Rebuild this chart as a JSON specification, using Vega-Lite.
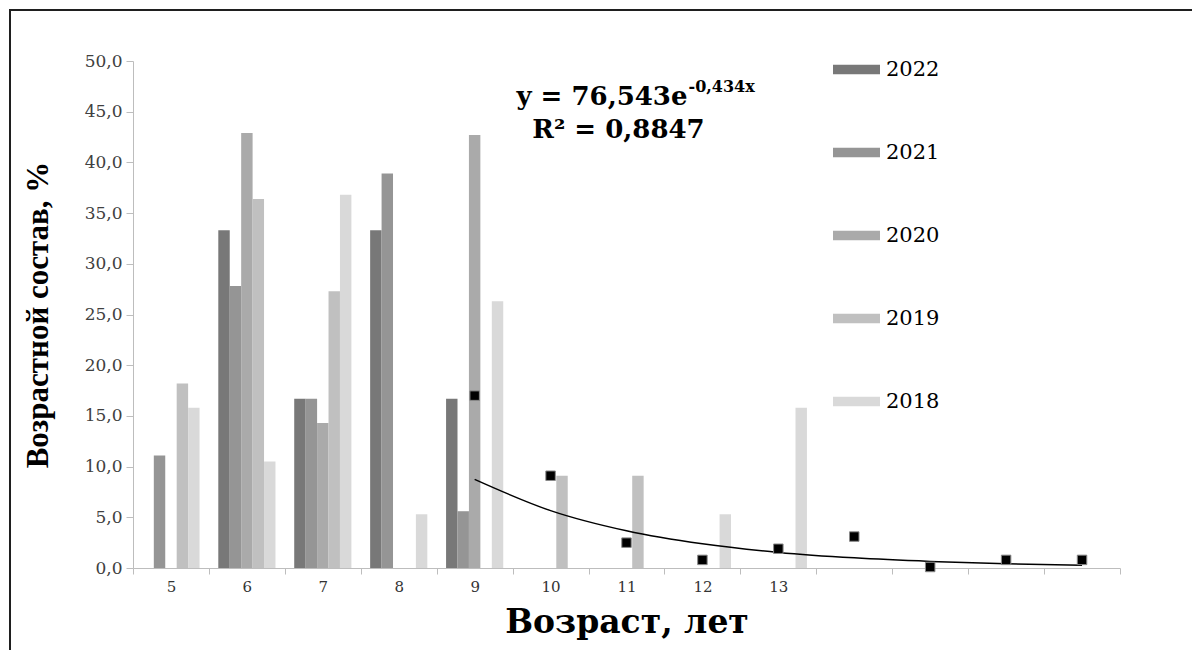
{
  "$schema": "https://vega.github.io/schema/vega-lite/v6.json",
  "autosize": {"type": "none"},
  "padding": {"left": 10, "top": 10, "right": 0, "bottom": 0},
  "width": 1200,
  "height": 660,
  "background": "white",
  "config": {
    "view": {"stroke": "#1f1f1f", "strokeWidth": 2},
    "axis": {"grid": false}
  },
  "datasets": {
    "bars": [
      {"age": "5", "year": "2021", "value": 11.1},
      {"age": "5", "year": "2019", "value": 18.2},
      {"age": "5", "year": "2018", "value": 15.8},
      {"age": "6", "year": "2022", "value": 33.3},
      {"age": "6", "year": "2021", "value": 27.8},
      {"age": "6", "year": "2020", "value": 42.9},
      {"age": "6", "year": "2019", "value": 36.4},
      {"age": "6", "year": "2018", "value": 10.5},
      {"age": "7", "year": "2022", "value": 16.7},
      {"age": "7", "year": "2021", "value": 16.7},
      {"age": "7", "year": "2020", "value": 14.3},
      {"age": "7", "year": "2019", "value": 27.3},
      {"age": "7", "year": "2018", "value": 36.8},
      {"age": "8", "year": "2022", "value": 33.3},
      {"age": "8", "year": "2021", "value": 38.9},
      {"age": "8", "year": "2018", "value": 5.3},
      {"age": "9", "year": "2022", "value": 16.7},
      {"age": "9", "year": "2021", "value": 5.6},
      {"age": "9", "year": "2020", "value": 42.7},
      {"age": "9", "year": "2018", "value": 26.3},
      {"age": "10", "year": "2019", "value": 9.1},
      {"age": "11", "year": "2019", "value": 9.1},
      {"age": "12", "year": "2018", "value": 5.3},
      {"age": "13", "year": "2018", "value": 15.8}
    ],
    "points": [
      {"age": "9", "value": 17.0},
      {"age": "10", "value": 9.1},
      {"age": "11", "value": 2.5},
      {"age": "12", "value": 0.8},
      {"age": "13", "value": 1.9},
      {"age": "14", "value": 3.1},
      {"age": "15", "value": 0.1},
      {"age": "16", "value": 0.8},
      {"age": "17", "value": 0.8}
    ],
    "trend": [
      {"age": "9", "value": 8.74},
      {"age": "10", "value": 5.66},
      {"age": "11", "value": 3.67},
      {"age": "12", "value": 2.38},
      {"age": "13", "value": 1.54},
      {"age": "14", "value": 1.0},
      {"age": "15", "value": 0.65},
      {"age": "16", "value": 0.42},
      {"age": "17", "value": 0.27}
    ],
    "labels": [
      {"t": "y = 76,543e", "part": "main"},
      {"t": "-0,434x", "part": "sup"},
      {"t": "R² = 0,8847", "part": "r2"}
    ]
  },
  "layer": [
    {
      "data": {"name": "bars"},
      "mark": {"type": "bar"},
      "encoding": {
        "x": {
          "field": "age",
          "type": "nominal",
          "sort": null,
          "scale": {
            "domain": ["5", "6", "7", "8", "9", "10", "11", "12", "13", "14", "15", "16", "17"],
            "range": [123, 1110],
            "paddingInner": 0,
            "paddingOuter": 0
          },
          "axis": {
            "orient": "bottom",
            "offset": -102,
            "labelAngle": 0,
            "labelExpr": "toNumber(datum.value) > 13 ? '' : datum.value",
            "labelFont": "DejaVu Serif",
            "labelFontSize": 15,
            "labelColor": "#333333",
            "labelPadding": 5,
            "domainColor": "#bdbdbd",
            "tickColor": "#bdbdbd",
            "tickSize": 6,
            "tickBand": "extent",
            "title": "Возраст, лет",
            "titleFont": "DejaVu Serif",
            "titleFontSize": 33,
            "titleFontWeight": "bold",
            "titleColor": "black",
            "titleBaseline": "alphabetic",
            "titleY": 64
          }
        },
        "y": {
          "field": "value",
          "type": "quantitative",
          "scale": {"domain": [0, 50], "range": [558, 51], "nice": false, "zero": true},
          "axis": {
            "orient": "left",
            "offset": -123,
            "values": [0, 5, 10, 15, 20, 25, 30, 35, 40, 45, 50],
            "labelExpr": "replace(format(datum.value, '.1f'), '.', ',')",
            "labelFont": "DejaVu Serif",
            "labelFontSize": 17,
            "labelColor": "#404040",
            "labelPadding": 4,
            "domainColor": "#bdbdbd",
            "tickColor": "#bdbdbd",
            "tickSize": 7,
            "title": "Возрастной состав, %",
            "titleFont": "Liberation Serif",
            "titleFontSize": 31,
            "titleFontWeight": "bold",
            "titleColor": "black",
            "titleAngle": 270,
            "titleBaseline": "alphabetic",
            "titleX": -86
          }
        },
        "xOffset": {
          "field": "year",
          "type": "nominal",
          "scale": {"domain": ["2022", "2021", "2020", "2019", "2018"], "paddingInner": 0, "paddingOuter": 0.82}
        },
        "color": {
          "field": "year",
          "type": "nominal",
          "scale": {
            "domain": ["2022", "2021", "2020", "2019", "2018"],
            "range": ["#787878", "#959595", "#aaaaaa", "#c0c0c0", "#d9d9d9"]
          },
          "legend": {
            "orient": "none",
            "legendX": 823,
            "legendY": 36,
            "title": null,
            "padding": 0,
            "symbolType": "M-1,-0.2H1V0.2H-1Z",
            "symbolSize": 2209,
            "symbolStrokeWidth": 0,
            "symbolOpacity": 1,
            "labelFont": "DejaVu Serif",
            "labelFontSize": 21,
            "labelColor": "black",
            "labelOffset": 6,
            "rowPadding": 49
          }
        }
      }
    },
    {
      "data": {"name": "trend"},
      "mark": {"type": "line", "color": "black", "strokeWidth": 1.5, "interpolate": "monotone"},
      "encoding": {
        "x": {"field": "age", "type": "nominal", "sort": null},
        "y": {"field": "value", "type": "quantitative"}
      }
    },
    {
      "data": {"name": "points"},
      "mark": {"type": "square", "size": 90, "filled": true, "fill": "black", "stroke": "#8a8a8a", "strokeWidth": 1, "opacity": 1},
      "encoding": {
        "x": {"field": "age", "type": "nominal", "sort": null},
        "y": {"field": "value", "type": "quantitative"}
      }
    },
    {
      "data": {"name": "labels"},
      "transform": [{"filter": "datum.part === 'main'"}],
      "mark": {"type": "text", "font": "DejaVu Serif", "fontSize": 26, "fontWeight": "bold", "color": "black", "align": "right", "baseline": "alphabetic", "dx": 61},
      "encoding": {"x": {"datum": "11"}, "y": {"datum": 45.7}, "text": {"field": "t", "type": "nominal"}}
    },
    {
      "data": {"name": "labels"},
      "transform": [{"filter": "datum.part === 'sup'"}],
      "mark": {"type": "text", "font": "DejaVu Serif", "fontSize": 16, "fontWeight": "bold", "color": "black", "align": "left", "baseline": "alphabetic", "dx": 62},
      "encoding": {"x": {"datum": "11"}, "y": {"datum": 46.9}, "text": {"field": "t", "type": "nominal"}}
    },
    {
      "data": {"name": "labels"},
      "transform": [{"filter": "datum.part === 'r2'"}],
      "mark": {"type": "text", "font": "DejaVu Serif", "fontSize": 26, "fontWeight": "bold", "color": "black", "align": "center", "baseline": "alphabetic", "dx": -8},
      "encoding": {"x": {"datum": "11"}, "y": {"datum": 42.4}, "text": {"field": "t", "type": "nominal"}}
    }
  ]
}
